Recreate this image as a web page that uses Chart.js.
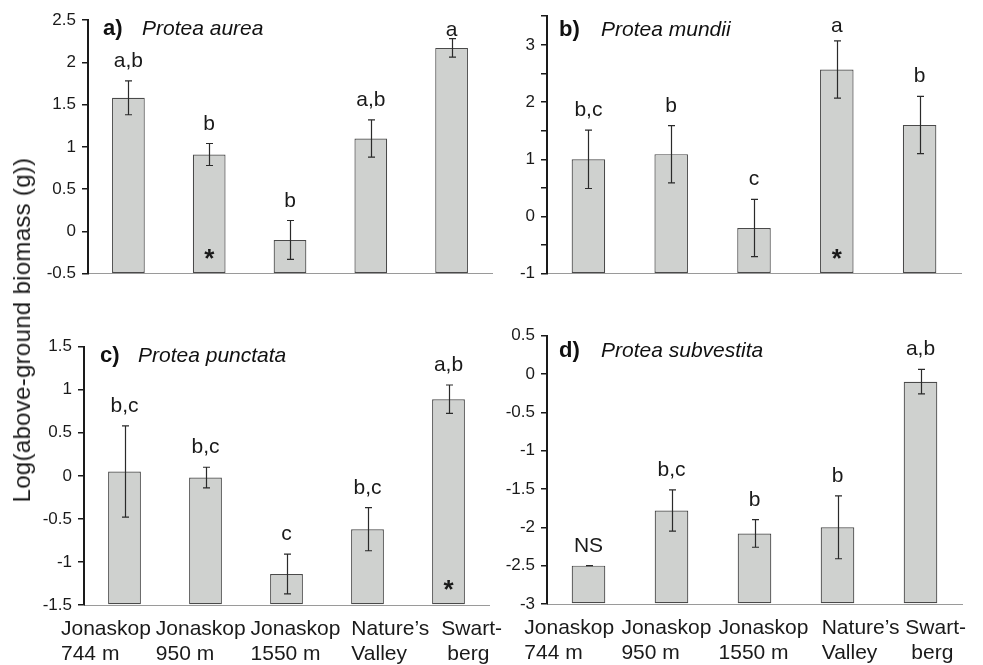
<!DOCTYPE html>
<html><head><meta charset="utf-8">
<script src="https://cdn.jsdelivr.net/npm/chart.js@4.4.1/dist/chart.umd.min.js"></script>
<style>
html,body{margin:0;padding:0;background:#fff;}
#wrap{position:relative;width:983px;height:665px;overflow:hidden;font-family:'Liberation Sans',Arial,sans-serif;background:#fff;}
canvas{position:absolute;}
#ytitle{position:absolute;left:21.7px;top:330px;transform:translate(-50%,-50%) rotate(-90deg);font-size:24px;line-height:1;white-space:nowrap;color:#1a1a1a;letter-spacing:0.3px;}
</style></head>
<body><div id="wrap">
<canvas id="cA" width="465" height="290" style="left:30px;top:0px"></canvas>
<canvas id="cB" width="488" height="290" style="left:495px;top:0px"></canvas>
<canvas id="cC" width="490" height="365" style="left:30px;top:300px"></canvas>
<canvas id="cD" width="488" height="365" style="left:495px;top:300px"></canvas>
<div id="ytitle">Log(above-ground biomass (g))</div>
</div>
<script>
// ---- data ----
const categories = [["Jonaskop","744 m"],["Jonaskop","950 m"],["Jonaskop","1550 m"],["Nature\u2019s","Valley"],["Swart-","berg"]];

const aureaMeans   = [1.58, 0.91, -0.10, 1.10, 2.17];
const aureaErr     = [0.20, 0.13, 0.23, 0.22, 0.11];
const aureaLetters = ["a,b","b","b","a,b","a"];
const aureaStar    = [false, true, false, false, false];

const mundiiMeans   = [1.00, 1.09, -0.20, 2.57, 1.60];
const mundiiErr     = [0.51, 0.50, 0.50, 0.50, 0.50];
const mundiiLetters = ["b,c","b","c","a","b"];
const mundiiStar    = [false, false, false, true, false];

const punctataMeans   = [0.05, -0.02, -1.14, -0.62, 0.89];
const punctataErr     = [0.53, 0.12, 0.23, 0.25, 0.165];
const punctataLetters = ["b,c","b,c","c","b,c","a,b"];
const punctataStar    = [false, false, false, false, true];

const subvestitaMeans   = [-2.50, -1.78, -2.08, -2.00, -0.10];
const subvestitaErr     = [0.00, 0.27, 0.18, 0.41, 0.16];
const subvestitaLetters = ["NS","b,c","b","b","a,b"];
const subvestitaStar    = [false, false, false, false, false];

const FONT = '"Liberation Sans", Arial, Helvetica, sans-serif';

const annot = {
  id: 'annot',
  afterDatasetsDraw(chart, args, o) {
    const ctx = chart.ctx, ys = chart.scales.y, xs = chart.scales.x, area = chart.chartArea;
    const meta = chart.getDatasetMeta(0);
    ctx.save();
    meta.data.forEach((bar, i) => {
      const m = o.means[i], e = o.errs[i];
      const yt = ys.getPixelForValue(m + e), yb = ys.getPixelForValue(m - e);
      const x = Math.round(bar.x) + 0.5;
      ctx.strokeStyle = '#2a2a2a'; ctx.lineWidth = 1.2;
      ctx.beginPath();
      ctx.moveTo(x, yt); ctx.lineTo(x, yb);
      ctx.moveTo(x - 3.5, yt); ctx.lineTo(x + 3.5, yt);
      ctx.moveTo(x - 3.5, yb); ctx.lineTo(x + 3.5, yb);
      ctx.stroke();
      ctx.fillStyle = '#1a1a1a';
      ctx.textAlign = 'center'; ctx.textBaseline = 'alphabetic';
      ctx.font = '21px ' + FONT;
      const ly = Math.max(yt - 14, area.top + 16);
      ctx.fillText(o.letters[i], bar.x, ly);
      if (o.stars[i]) {
        ctx.font = 'bold 26px ' + FONT;
        ctx.fillText('*', bar.x, bar.base - 6);
      }
    });
    // panel title
    ctx.textAlign = 'left'; ctx.textBaseline = 'alphabetic'; ctx.fillStyle = '#111';
    ctx.font = 'bold 22px ' + FONT;
    ctx.fillText(o.tag, area.left + o.tagDx, area.top + o.titleDy);
    ctx.font = 'italic 21px ' + FONT;
    ctx.fillText(o.species, area.left + 54, area.top + o.titleDy);
    // category labels (bottom panels): spread slightly wider than the bars, lines left-aligned
    if (o.showX) {
      const mid = (area.left + area.right) / 2;
      ctx.font = '21px ' + FONT;
      ctx.fillStyle = '#1a1a1a';
      ctx.textBaseline = 'middle';
      categories.forEach((lines, i) => {
        const cx = xs.getPixelForValue(i);
        const c = mid + (cx - mid) * 1.17 + 9;
        const w = Math.max(...lines.map(t => ctx.measureText(t).width));
        let left = c - w / 2;
        if (left + w > area.right + o.labelOver) left = area.right + o.labelOver - w;
        lines.forEach((t, j) => ctx.fillText(t, left + (j > 0 && i === 4 ? 6 : 0), area.bottom + 24 + j * 25));
      });
    }
    ctx.restore();
  }
};

const panels = [
  {id:'cA', tag:'a)', species:'Protea aurea', means:aureaMeans, errs:aureaErr, letters:aureaLetters, stars:aureaStar,
   min:-0.5, max:2.5, intOnly:false, yW:58, padTop:20, padRight:3, xH:13, showX:false, tagDx:15, titleDy:14.5, labelOver:0},
  {id:'cB', tag:'b)', species:'Protea mundii', means:mundiiMeans, errs:mundiiErr, letters:mundiiLetters, stars:mundiiStar,
   min:-1, max:3.5, intOnly:true, yW:52, padTop:11, padRight:22, xH:13, showX:false, tagDx:12, titleDy:20, labelOver:0},
  {id:'cC', tag:'c)', species:'Protea punctata', means:punctataMeans, errs:punctataErr, letters:punctataLetters, stars:punctataStar,
   min:-1.5, max:1.5, intOnly:false, yW:54, padTop:46.7, padRight:31, xH:60, showX:true, tagDx:16, titleDy:15, labelOver:13},
  {id:'cD', tag:'d)', species:'Protea subvestita', means:subvestitaMeans, errs:subvestitaErr, letters:subvestitaLetters, stars:subvestitaStar,
   min:-3, max:0.5, intOnly:false, yW:52, padTop:35.7, padRight:21, xH:61, showX:true, tagDx:12, titleDy:21.6, labelOver:4}
];

panels.forEach(p => {
  new Chart(document.getElementById(p.id), {
    type: 'bar',
    data: {
      labels: categories,
      datasets: [{
        data: p.means,
        base: p.min,
        backgroundColor: '#cfd1cf',
        borderColor: '#4a4a4a',
        borderWidth: 1.2,
        borderSkipped: false,
        barPercentage: 0.405,
        categoryPercentage: 1
      }]
    },
    options: {
      responsive: false,
      animation: false,
      events: [],
      layout: { padding: { top: p.padTop, right: p.padRight, left: 0, bottom: 0 } },
      plugins: {
        legend: { display: false },
        tooltip: { enabled: false },
        annot: p
      },
      scales: {
        x: {
          grid: { display: false },
          border: { display: true, color: '#9a9a9a', width: 1 },
          ticks: { display: false },
          afterFit: s => { s.height = p.xH; }
        },
        y: {
          min: p.min, max: p.max,
          grid: { drawOnChartArea: false, drawTicks: true, tickLength: 6, color: '#1a1a1a', lineWidth: 1.5 },
          border: { display: true, color: '#1a1a1a', width: 2 },
          ticks: { stepSize: 0.5, autoSkip: false, padding: 6, color: '#1a1a1a',
                   font: { family: FONT, size: 17 },
                   callback: v => (p.intOnly && !Number.isInteger(v)) ? '' : String(v) },
          afterFit: s => { s.width = p.yW; }
        }
      }
    },
    plugins: [annot]
  });
});
</script>
</body></html>
